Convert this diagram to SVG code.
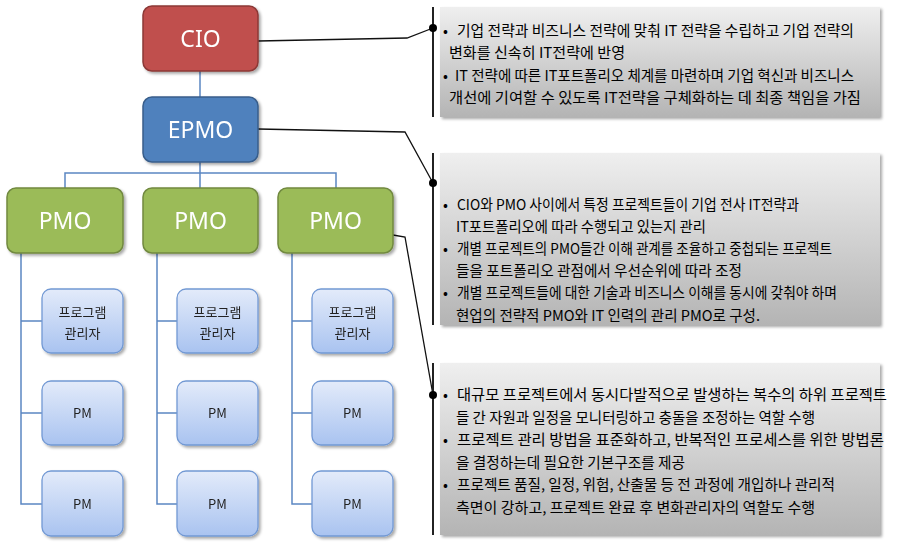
<svg xmlns="http://www.w3.org/2000/svg" width="898" height="548" viewBox="0 0 898 548">
<defs>
<linearGradient id="gChild" x1="0" y1="0" x2="0" y2="1">
<stop offset="0" stop-color="#e3ebfa"/>
<stop offset="1" stop-color="#a9c3f0"/>
</linearGradient>
<linearGradient id="gNote" x1="0" y1="0" x2="0" y2="1">
<stop offset="0" stop-color="#efefef"/>
<stop offset="1" stop-color="#b4b4b4"/>
</linearGradient>
<filter id="sh" x="-10%" y="-10%" width="125%" height="130%">
<feGaussianBlur in="SourceAlpha" stdDeviation="1.5"/>
<feOffset dx="1.5" dy="2" result="b"/>
<feComponentTransfer><feFuncA type="linear" slope="0.35"/></feComponentTransfer>
<feMerge><feMergeNode/><feMergeNode in="SourceGraphic"/></feMerge>
</filter>
</defs>
<style>
.big{font-family:"Noto Sans","Noto Sans CJK KR",sans-serif;font-size:23px;fill:#ffffff;text-anchor:middle}
.small{font-family:"Noto Sans CJK KR","Noto Sans",sans-serif;font-size:13px;fill:#222222;text-anchor:middle}
.note{font-family:"Noto Sans CJK KR","Noto Sans",sans-serif;font-size:14.5px;fill:#000000}
.child{fill:url(#gChild);stroke:#7299d4;stroke-width:1.3}
.notebox{fill:url(#gNote);filter:url(#sh)}
.tree{fill:none;stroke:#5b86c2;stroke-width:1.5}
.lead{fill:none;stroke:#111111;stroke-width:1.3}
.bar{stroke:#222222;stroke-width:2}
</style>

<g id="connectors">
<path class="tree" d="M200 71V97M200 162V188M65 188V173H336V188"/>
<path class="tree" d="M21 253V504H42M21 321H42M21 413H42"/>
<path class="tree" d="M157 253V504H177M157 321H177M157 413H177"/>
<path class="tree" d="M292 253V504H312M292 321H312M292 413H312"/>
<path class="lead" d="M258 41L407 38L433 28"/>
<path class="lead" d="M258 129L405 132L433 183"/>
<path class="lead" d="M393 235L405 237L433 395"/>
</g>

<g id="cio" filter="url(#sh)">
<rect x="143" y="6" width="115" height="65" rx="9" fill="#c0504d" stroke="#8c3836" stroke-width="1.5"/>
<text class="big" x="200.5" y="47">CIO</text>
</g>
<g id="epmo" filter="url(#sh)">
<rect x="143" y="97" width="115" height="65" rx="9" fill="#4f81bd" stroke="#385d8a" stroke-width="1.5"/>
<text class="big" x="200.5" y="138">EPMO</text>
</g>
<g id="pmo1" filter="url(#sh)">
<rect x="7" y="188" width="116" height="65" rx="9" fill="#9bbb59" stroke="#71893f" stroke-width="1.5"/>
<text class="big" x="65" y="229">PMO</text>
</g>
<g id="pmo2" filter="url(#sh)">
<rect x="143" y="188" width="115" height="65" rx="9" fill="#9bbb59" stroke="#71893f" stroke-width="1.5"/>
<text class="big" x="200.5" y="229">PMO</text>
</g>
<g id="pmo3" filter="url(#sh)">
<rect x="278" y="188" width="115" height="65" rx="9" fill="#9bbb59" stroke="#71893f" stroke-width="1.5"/>
<text class="big" x="335.5" y="229">PMO</text>
</g>

<g id="pgm1" filter="url(#sh)">
<rect class="child" x="42" y="289" width="81" height="64" rx="9"/>
<text class="small" x="82.5" y="317">프로그램</text>
<text class="small" x="82.5" y="338">관리자</text>
</g>
<g id="pm1a" filter="url(#sh)">
<rect class="child" x="42" y="381" width="81" height="64" rx="9"/>
<text class="small" x="82.5" y="418">PM</text>
</g>
<g id="pm1b" filter="url(#sh)">
<rect class="child" x="42" y="471" width="81" height="65" rx="9"/>
<text class="small" x="82.5" y="509">PM</text>
</g>
<g id="pgm2" filter="url(#sh)">
<rect class="child" x="177" y="289" width="81" height="64" rx="9"/>
<text class="small" x="217.5" y="317">프로그램</text>
<text class="small" x="217.5" y="338">관리자</text>
</g>
<g id="pm2a" filter="url(#sh)">
<rect class="child" x="177" y="381" width="81" height="64" rx="9"/>
<text class="small" x="217.5" y="418">PM</text>
</g>
<g id="pm2b" filter="url(#sh)">
<rect class="child" x="177" y="471" width="81" height="65" rx="9"/>
<text class="small" x="217.5" y="509">PM</text>
</g>
<g id="pgm3" filter="url(#sh)">
<rect class="child" x="312" y="289" width="81" height="64" rx="9"/>
<text class="small" x="352.5" y="317">프로그램</text>
<text class="small" x="352.5" y="338">관리자</text>
</g>
<g id="pm3a" filter="url(#sh)">
<rect class="child" x="312" y="381" width="81" height="64" rx="9"/>
<text class="small" x="352.5" y="418">PM</text>
</g>
<g id="pm3b" filter="url(#sh)">
<rect class="child" x="312" y="471" width="81" height="65" rx="9"/>
<text class="small" x="352.5" y="509">PM</text>
</g>

<g id="note1">
<rect class="notebox" x="440" y="7" width="440" height="110"/>
<line class="bar" x1="433" y1="7" x2="433" y2="117"/>
<circle cx="433" cy="28" r="4" fill="#000"/>
<text class="note" x="443" y="36">•</text>
<text class="note" x="457" y="36" textLength="397" lengthAdjust="spacingAndGlyphs">기업 전략과 비즈니스 전략에 맞춰 IT 전략을 수립하고 기업 전략의</text>
<text class="note" x="449" y="58" textLength="176" lengthAdjust="spacingAndGlyphs">변화를 신속히 IT전략에 반영</text>
<text class="note" x="443" y="81">•</text>
<text class="note" x="455" y="81" textLength="399" lengthAdjust="spacingAndGlyphs">IT 전략에 따른 IT포트폴리오 체계를 마련하며 기업 혁신과 비즈니스</text>
<text class="note" x="449" y="103" textLength="412" lengthAdjust="spacingAndGlyphs">개선에 기여할 수 있도록 IT전략을 구체화하는 데 최종 책임을 가짐</text>
</g>

<g id="note2">
<rect class="notebox" x="440" y="153" width="440" height="172"/>
<line class="bar" x1="433" y1="153" x2="433" y2="325"/>
<circle cx="433" cy="183" r="4" fill="#000"/>
<text class="note" x="443" y="210">•</text>
<text class="note" x="457" y="210" textLength="342" lengthAdjust="spacingAndGlyphs">CIO와 PMO 사이에서 특정 프로젝트들이 기업 전사 IT전략과</text>
<text class="note" x="456" y="232" textLength="250" lengthAdjust="spacingAndGlyphs">IT포트폴리오에 따라 수행되고 있는지 관리</text>
<text class="note" x="443" y="254">•</text>
<text class="note" x="457" y="254" textLength="375" lengthAdjust="spacingAndGlyphs">개별 프로젝트의 PMO들간 이해 관계를 조율하고 중첩되는 프로젝트</text>
<text class="note" x="456" y="276" textLength="286" lengthAdjust="spacingAndGlyphs">들을 포트폴리오 관점에서 우선순위에 따라 조정</text>
<text class="note" x="443" y="298">•</text>
<text class="note" x="457" y="298" textLength="380" lengthAdjust="spacingAndGlyphs">개별 프로젝트들에 대한 기술과 비즈니스 이해를 동시에 갖춰야 하며</text>
<text class="note" x="456" y="321" textLength="304" lengthAdjust="spacingAndGlyphs">현업의 전략적 PMO와 IT 인력의 관리 PMO로 구성.</text>
</g>

<g id="note3">
<rect class="notebox" x="440" y="363" width="440" height="172"/>
<line class="bar" x1="433" y1="363" x2="433" y2="535"/>
<circle cx="433" cy="395" r="4" fill="#000"/>
<text class="note" x="443" y="400">•</text>
<text class="note" x="457" y="400" textLength="430" lengthAdjust="spacingAndGlyphs">대규모 프로젝트에서 동시다발적으로 발생하는 복수의 하위 프로젝트</text>
<text class="note" x="456" y="423" textLength="359" lengthAdjust="spacingAndGlyphs">들 간 자원과 일정을 모니터링하고 충돌을 조정하는 역할 수행</text>
<text class="note" x="443" y="445">•</text>
<text class="note" x="457" y="445" textLength="427" lengthAdjust="spacingAndGlyphs">프로젝트 관리 방법을 표준화하고, 반복적인 프로세스를 위한 방법론</text>
<text class="note" x="456" y="468" textLength="229" lengthAdjust="spacingAndGlyphs">을 결정하는데 필요한 기본구조를 제공</text>
<text class="note" x="443" y="490">•</text>
<text class="note" x="457" y="490" textLength="378" lengthAdjust="spacingAndGlyphs">프로젝트 품질, 일정, 위험, 산출물 등 전 과정에 개입하나 관리적</text>
<text class="note" x="456" y="513" textLength="359" lengthAdjust="spacingAndGlyphs">측면이 강하고, 프로젝트 완료 후 변화관리자의 역할도 수행</text>
</g>
</svg>
